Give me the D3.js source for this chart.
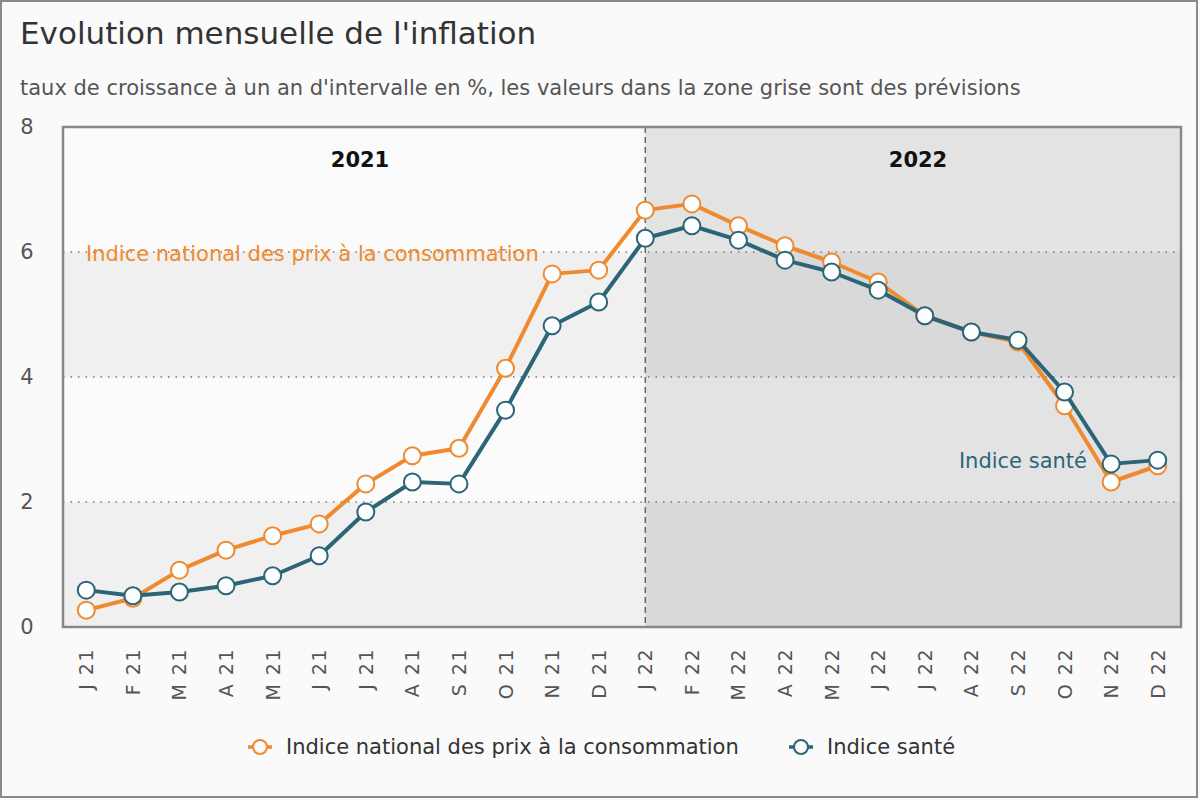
<!DOCTYPE html>
<html>
<head>
<meta charset="utf-8">
<script src="https://cdn.jsdelivr.net/npm/d3@7"></script>
<style>
    html, body { margin: 0; padding: 0; background: #fafafa; }
    svg { display: block; font-family: "DejaVu Sans", sans-serif; }
</style>
</head>
<body>
<div id="chart"></div>
<script>
// ---- data ----
const months = ["J 21", "F 21", "M 21", "A 21", "M 21", "J 21", "J 21", "A 21", "S 21", "O 21", "N 21", "D 21",
                "J 22", "F 22", "M 22", "A 22", "M 22", "J 22", "J 22", "A 22", "S 22", "O 22", "N 22", "D 22"];
const ipc = [0.27, 0.46, 0.91, 1.23, 1.46, 1.65, 2.29, 2.74, 2.86, 4.14, 5.65, 5.71,
             6.67, 6.77, 6.42, 6.10, 5.84, 5.52, 4.98, 4.72, 4.56, 3.54, 2.32, 2.58];
const sante = [0.59, 0.50, 0.56, 0.66, 0.82, 1.14, 1.84, 2.32, 2.29, 3.47, 4.82, 5.20,
               6.22, 6.42, 6.19, 5.87, 5.68, 5.39, 4.98, 4.72, 4.59, 3.76, 2.61, 2.67];
const yTicks = [0, 2, 4, 6, 8];
const years = ["2021", "2022"];
const seriesNames = ["Indice national des prix à la consommation", "Indice santé"];

const W = 1200, H = 800;
const m = { left: 63, right: 1181, top: 127, bottom: 627 };
const ORANGE = '#ef8a2e', TEAL = '#2c6577';

const svg = d3.select('#chart').append('svg')
    .attr('width', W).attr('height', H);

// outer frame
svg.append('rect')
    .attr('x', 1).attr('y', 1).attr('width', W - 4).attr('height', H - 4)
    .attr('fill', '#fafafa').attr('stroke', '#8a8a8a').attr('stroke-width', 2);

svg.append('text').attr('x', 20).attr('y', 44)
    .attr('font-size', 31).attr('fill', '#333')
    .text("Evolution mensuelle de l'inflation");

svg.append('text').attr('x', 20).attr('y', 95)
    .attr('font-size', 21).attr('fill', '#555')
    .text("taux de croissance à un an d'intervalle en %, les valeurs dans la zone grise sont des prévisions");

// scales
const x = d3.scalePoint().domain(d3.range(months.length))
    .range([m.left, m.right]).padding(0.5);
const y = d3.scaleLinear().domain([0, 8]).range([m.bottom, m.top]);

const splitX = x(12);

// background bands (alternate every 2 units, forecast zone darker)
const bands = d3.pairs(yTicks);
const g = svg.append('g');
bands.forEach(([lo, hi], i) => {
    const odd = i % 2 === 0;
    g.append('rect')
        .attr('x', m.left).attr('y', y(hi))
        .attr('width', splitX - m.left).attr('height', y(lo) - y(hi))
        .attr('fill', odd ? '#f0f0f0' : '#fbfbfb');
    g.append('rect')
        .attr('x', splitX).attr('y', y(hi))
        .attr('width', m.right - splitX).attr('height', y(lo) - y(hi))
        .attr('fill', odd ? '#d9d9d9' : '#e3e3e3');
});

// grid lines
g.selectAll('line.grid')
    .data(yTicks.filter(d => d > 0 && d < 8))
    .join('line')
    .attr('x1', m.left).attr('x2', m.right)
    .attr('y1', d => y(d)).attr('y2', d => y(d))
    .attr('stroke', '#777').attr('stroke-width', 1.5)
    .attr('stroke-dasharray', '1.5 6');

// forecast separator
g.append('line')
    .attr('x1', splitX).attr('x2', splitX)
    .attr('y1', m.top).attr('y2', m.bottom)
    .attr('stroke', '#666').attr('stroke-width', 1.5)
    .attr('stroke-dasharray', '6 4');

// plot frame
g.append('rect')
    .attr('x', m.left).attr('y', m.top)
    .attr('width', m.right - m.left).attr('height', m.bottom - m.top)
    .attr('fill', 'none').attr('stroke', '#888').attr('stroke-width', 2.5);

// year labels
g.selectAll('text.year')
    .data(years)
    .join('text')
    .attr('x', (d, i) => i === 0 ? 360 : 918)
    .attr('y', 167)
    .attr('text-anchor', 'middle')
    .attr('font-size', 21).attr('font-weight', 'bold').attr('fill', '#111')
    .text(d => d);

// y axis labels
svg.append('g').selectAll('text')
    .data(yTicks)
    .join('text')
    .attr('x', 27).attr('y', d => y(d) + 7)
    .attr('text-anchor', 'middle')
    .attr('font-size', 21).attr('fill', '#555')
    .text(d => d);

// x axis labels
svg.append('g').selectAll('text')
    .data(months)
    .join('text')
    .attr('transform', (d, i) => `translate(${x(i) + 7},648) rotate(-90)`)
    .attr('text-anchor', 'end')
    .attr('font-size', 19).attr('fill', '#555')
    .attr('letter-spacing', 1.5)
    .text(d => d);

// series
const line = d3.line().x((d, i) => x(i)).y(d => y(d));
const series = [
    { values: ipc, color: ORANGE },
    { values: sante, color: TEAL }
];
series.forEach(s => {
    svg.append('path')
        .datum(s.values)
        .attr('d', line)
        .attr('fill', 'none').attr('stroke', s.color).attr('stroke-width', 4)
        .attr('stroke-linejoin', 'round');
    svg.append('g').selectAll('circle')
        .data(s.values)
        .join('circle')
        .attr('cx', (d, i) => x(i)).attr('cy', d => y(d))
        .attr('r', 8.5)
        .attr('fill', '#fcfeff').attr('stroke', s.color).attr('stroke-width', 2);
});

// inline labels
svg.append('text').attr('x', 86).attr('y', 261)
    .attr('font-size', 21).attr('fill', ORANGE)
    .text(seriesNames[0]);
svg.append('text').attr('x', 1087).attr('y', 468)
    .attr('text-anchor', 'end')
    .attr('font-size', 21).attr('fill', TEAL)
    .text(seriesNames[1]);

// legend
const legend = svg.append('g');
const legendItems = [
    { name: seriesNames[0], color: ORANGE, x: 248 },
    { name: seriesNames[1], color: TEAL, x: 789 }
];
legendItems.forEach(it => {
    legend.append('line')
        .attr('x1', it.x).attr('x2', it.x + 24)
        .attr('y1', 747).attr('y2', 747)
        .attr('stroke', it.color).attr('stroke-width', 3.5);
    legend.append('circle')
        .attr('cx', it.x + 12).attr('cy', 747).attr('r', 7)
        .attr('fill', '#fafafa').attr('stroke', it.color).attr('stroke-width', 2);
    legend.append('text')
        .attr('x', it.x + 38).attr('y', 754)
        .attr('font-size', 21).attr('fill', '#333')
        .text(it.name);
});
</script>
</body>
</html>
